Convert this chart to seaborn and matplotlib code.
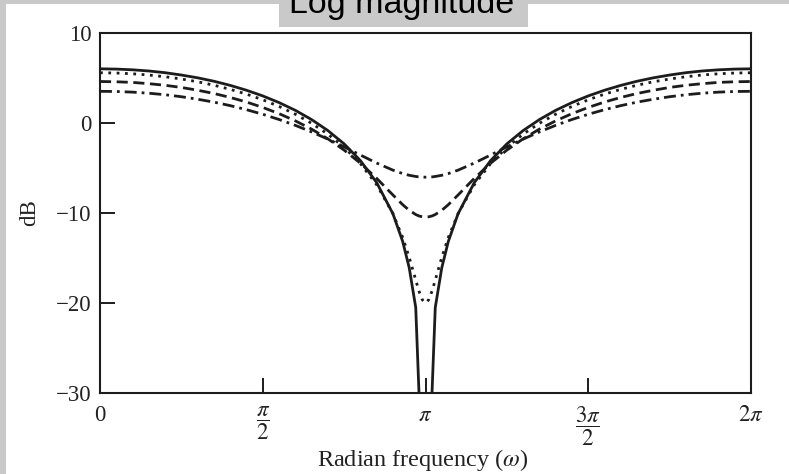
import numpy as np
import pandas as pd
import matplotlib
matplotlib.use("Agg")
import matplotlib.pyplot as plt
import seaborn as sns
from matplotlib.patches import Rectangle

# Frequency grid, in units of pi
omega_frac = [0.0, 0.05, 0.1, 0.15, 0.2, 0.25, 0.3, 0.35, 0.4, 0.45, 0.5, 0.55,
              0.6, 0.65, 0.7, 0.75, 0.8, 0.85, 0.9, 0.93, 0.95, 0.97, 0.98, 0.99,
              1.0,
              1.01, 1.02, 1.03, 1.05, 1.07, 1.1, 1.15, 1.2, 1.25, 1.3, 1.35, 1.4,
              1.45, 1.5, 1.55, 1.6, 1.65, 1.7, 1.75, 1.8, 1.85, 1.9, 1.95, 2.0]

# Log magnitude (dB) of each curve; values below -30 run off the bottom of the plot
db_r100 = [6.02, 5.99, 5.91, 5.78, 5.59, 5.33, 5.02, 4.64, 4.18, 3.64, 3.01, 2.27,
           1.41, 0.38, -0.84, -2.32, -4.18, -6.62, -10.09, -13.17, -16.09, -20.5, -30.0, -40.0,
           -40.0,
           -40.0, -30.0, -20.5, -16.09, -13.17, -10.09, -6.62, -4.18, -2.32, -0.84, 0.38, 1.41,
           2.27, 3.01, 3.64, 4.18, 4.64, 5.02, 5.33, 5.59, 5.78, 5.91, 5.99, 6.02]
db_r090 = [5.58, 5.55, 5.47, 5.33, 5.14, 4.89, 4.58, 4.20, 3.74, 3.21, 2.58, 1.84,
           0.98, -0.03, -1.24, -2.70, -4.51, -6.86, -10.08, -12.73, -14.93, -17.45, -18.68, -19.63,
           -20.0,
           -19.63, -18.68, -17.45, -14.93, -12.73, -10.08, -6.86, -4.51, -2.70, -1.24, -0.03, 0.98,
           1.84, 2.58, 3.21, 3.74, 4.20, 4.58, 4.89, 5.14, 5.33, 5.47, 5.55, 5.58]
db_r070 = [4.61, 4.58, 4.51, 4.37, 4.19, 3.95, 3.64, 3.28, 2.84, 2.33, 1.73, 1.04,
           0.24, -0.68, -1.76, -3.01, -4.47, -6.15, -8.00, -9.08, -9.70, -10.17, -10.33, -10.42,
           -10.46,
           -10.42, -10.33, -10.17, -9.70, -9.08, -8.00, -6.15, -4.47, -3.01, -1.76, -0.68, 0.24,
           1.04, 1.73, 2.33, 2.84, 3.28, 3.64, 3.95, 4.19, 4.37, 4.51, 4.58, 4.61]
db_r050 = [3.52, 3.50, 3.43, 3.31, 3.14, 2.92, 2.64, 2.32, 1.93, 1.48, 0.97, 0.39,
           -0.26, -0.99, -1.79, -2.65, -3.56, -4.45, -5.24, -5.62, -5.81, -5.94, -5.99, -6.01,
           -6.02,
           -6.01, -5.99, -5.94, -5.81, -5.62, -5.24, -4.45, -3.56, -2.65, -1.79, -0.99, -0.26,
           0.39, 0.97, 1.48, 1.93, 2.32, 2.64, 2.92, 3.14, 3.31, 3.43, 3.50, 3.52]

x_tick_frac = [0, 0.5, 1.0, 1.5, 2.0]
x_tick_labels = ["0", r"$\dfrac{\pi}{2}$", r"$\pi$", r"$\dfrac{3\pi}{2}$", r"$2\pi$"]
y_ticks = [-30, -20, -10, 0, 10]

curves = {"r=1.0": db_r100, "r=0.9": db_r090, "r=0.7": db_r070, "r=0.5": db_r050}
omega = np.pi * np.asarray(omega_frac)
df = pd.concat(
    [pd.DataFrame({"omega": omega, "dB": vals, "curve": name}) for name, vals in curves.items()],
    ignore_index=True,
)

sns.set_style("ticks")
plt.rcParams["font.family"] = ["Liberation Serif", "DejaVu Serif"]
plt.rcParams["mathtext.fontset"] = "stix"

W, H = 789, 474
fig = plt.figure(figsize=(W / 100, H / 100), dpi=100)
grey = "#c9c9c9"
fig.patch.set_facecolor(grey)
fig.add_artist(Rectangle((6 / W, 0), 1, 1 - 4 / H, transform=fig.transFigure,
                         facecolor="white", edgecolor="none", zorder=-5))
fig.add_artist(Rectangle((279 / W, 1 - 27 / H), 249 / W, 27 / H, transform=fig.transFigure,
                         facecolor=grey, edgecolor="none", zorder=-4))
fig.text(402 / W, 1 - 13 / H, "Log magnitude", family="Liberation Sans", size=24.5,
         ha="center", va="baseline", color="black")

ax = fig.add_axes([100 / W, 1 - 393 / H, 651 / W, 360 / H])
ax.set_facecolor("white")

ink = "#1c1c1c"
dashes = {"r=1.0": "", "r=0.9": (1, 2), "r=0.7": (4, 2), "r=0.5": (4.3, 1.8, 1, 1.8)}
sns.lineplot(data=df, x="omega", y="dB", style="curve", dashes=dashes, color=ink,
             linewidth=2.0, legend=False, errorbar=None, ax=ax)

ax.set_xlim(0, 2 * np.pi)
ax.set_ylim(-30, 10)
ax.set_xticks(np.pi * np.asarray(x_tick_frac))
ax.set_xticklabels(x_tick_labels)
ax.set_yticks(y_ticks)

for s in ax.spines.values():
    s.set_color(ink)
    s.set_linewidth(1.5)
ax.tick_params(direction="in", length=11, width=1.4, color=ink, labelsize=16.5,
               labelcolor="#222222", top=False, right=False)
ax.tick_params(axis="x", pad=8.5)
ax.tick_params(axis="y", pad=6)

ax.set_xlabel(r"Radian frequency ($\omega$)", fontsize=17.5, color="#222222")
ax.set_ylabel("dB", fontsize=16.5, color="#222222")
ax.xaxis.set_label_coords(0.496, -0.150)
ax.yaxis.set_label_coords(-0.092, 0.5)

fig.savefig("out.png", dpi=100, facecolor=fig.get_facecolor())
